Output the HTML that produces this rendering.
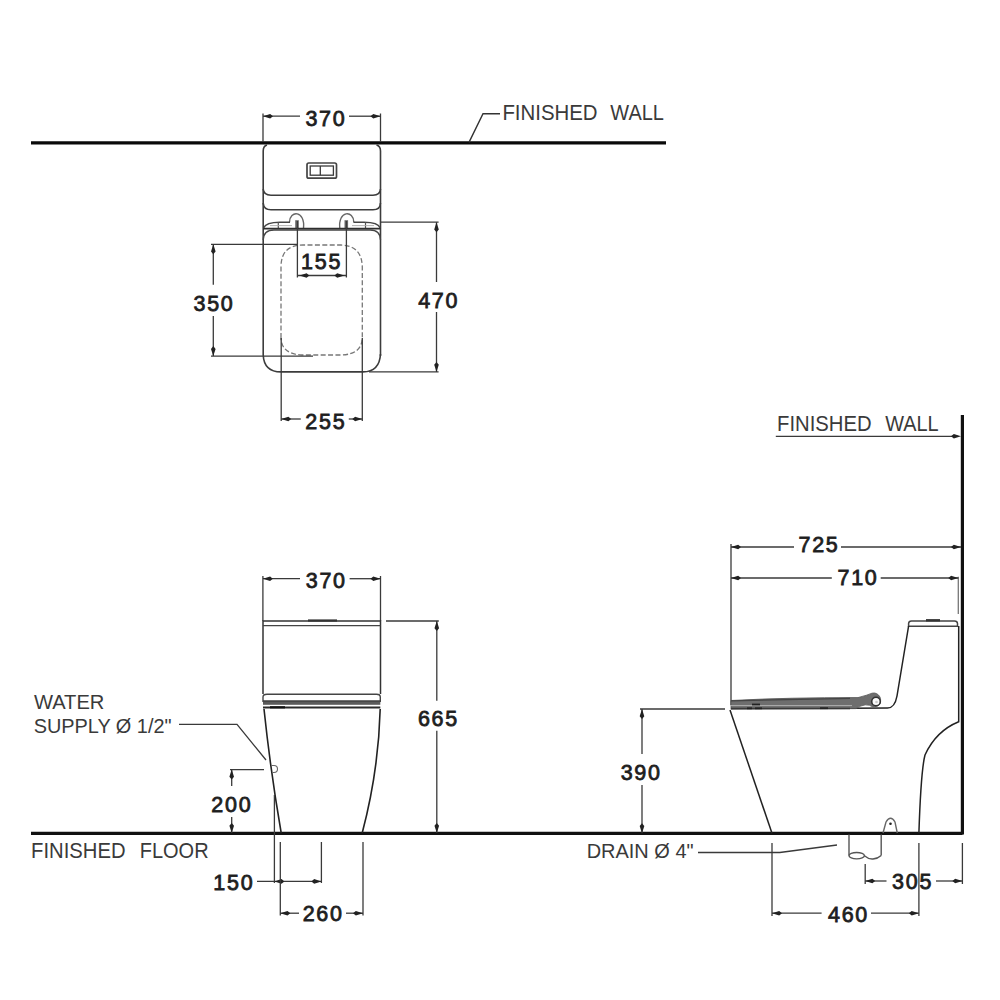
<!DOCTYPE html>
<html><head><meta charset="utf-8"><style>
html,body{margin:0;padding:0;background:#fff;width:1000px;height:1000px;overflow:hidden}
svg{display:block}
.n{font-family:"Liberation Sans",sans-serif;font-size:21.5px;fill:#1e1e1e;stroke:#1e1e1e;stroke-width:0.8;letter-spacing:1.7px}
.lbl{font-family:"Liberation Sans",sans-serif;font-size:21.5px;fill:#3a3a3a}
.lbl2{font-family:"Liberation Sans",sans-serif;font-size:20.5px;fill:#3a3a3a}
</style></head><body>
<svg width="1000" height="1000" viewBox="0 0 1000 1000">
<line x1="31" y1="142.9" x2="666" y2="142.9" stroke="#0a0a0a" stroke-width="3.3"/>
<polyline points="469,142.4 483,113.8 500,113.8" stroke="#333" stroke-width="1.4" fill="none"/>
<text x="502.4" y="119.8" class="lbl" textLength="95.2" lengthAdjust="spacingAndGlyphs">FINISHED</text>
<text x="610.3" y="119.8" class="lbl" textLength="53.6" lengthAdjust="spacingAndGlyphs">WALL</text>
<line x1="263" y1="113.5" x2="263" y2="142" stroke="#3a3a3a" stroke-width="1.3"/>
<line x1="380.5" y1="113.5" x2="380.5" y2="142" stroke="#3a3a3a" stroke-width="1.3"/>
<line x1="263" y1="116.2" x2="300" y2="116.2" stroke="#3a3a3a" stroke-width="1.3"/>
<line x1="349" y1="116.2" x2="380.5" y2="116.2" stroke="#3a3a3a" stroke-width="1.3"/>
<polygon points="263,116.2 270.2,113.9 273,116.2 270.2,118.5" fill="#222"/>
<polygon points="380.5,116.2 373.3,113.9 370.5,116.2 373.3,118.5" fill="#222"/>
<text x="325.95000000000005" y="126.3" text-anchor="middle" class="n">370</text>
<path d="M267,145 Q263.2,146 263.2,151 L263.2,355" stroke="#3c3c3c" stroke-width="1.6" fill="none" />
<path d="M376.5,145 Q380.5,146 380.5,151 L380.5,356" stroke="#3c3c3c" stroke-width="1.6" fill="none" />
<path d="M263.2,189 Q263.6,195.2 271,195.2 L373,195.2 Q380.3,195.2 380.5,189" stroke="#3c3c3c" stroke-width="1.6" fill="none" />
<path d="M263.2,203 Q263.6,209.8 271,209.8 L373,209.8 Q380.3,209.8 380.5,203" stroke="#3c3c3c" stroke-width="1.6" fill="none" />
<rect x="307" y="163" width="29.5" height="15.2" rx="1.8" fill="none" stroke="#444" stroke-width="1.7"/>
<rect x="310.2" y="166" width="23.2" height="9.2" fill="none" stroke="#3a3a3a" stroke-width="1.3"/>
<line x1="320.3" y1="166" x2="320.3" y2="175.2" stroke="#3a3a3a" stroke-width="1.3"/>
<path d="M289.5,222.2 C289.5,210 305.5,210 303.5,228.5" stroke="#666" stroke-width="1.4" fill="none" />
<rect x="295.2" y="220.2" width="3.6" height="8" fill="#6a6a6a"/>
<path d="M353.8,222.2 C353.8,210 337.8,210 339.8,228.5" stroke="#666" stroke-width="1.4" fill="none" />
<rect x="344.5" y="220.2" width="3.6" height="8" fill="#6a6a6a"/>
<path d="M263.5,228 Q266,222.2 280,222.2 L290,222.2" stroke="#444" stroke-width="1.4" fill="none" />
<path d="M353.5,222.2 L364,222.2 Q378,222.2 380.3,228" stroke="#444" stroke-width="1.4" fill="none" />
<line x1="278.3" y1="222.2" x2="278.3" y2="228.5" stroke="#555" stroke-width="1.2"/>
<line x1="365.5" y1="222.2" x2="365.5" y2="228.5" stroke="#555" stroke-width="1.2"/>
<line x1="270" y1="225.6" x2="292" y2="225.6" stroke="#aaa" stroke-width="0.9"/>
<line x1="352" y1="225.6" x2="374" y2="225.6" stroke="#aaa" stroke-width="0.9"/>
<line x1="263.2" y1="228.6" x2="380.5" y2="228.6" stroke="#2e2e2e" stroke-width="1.8"/>
<path d="M263.2,240 Q263.5,230 274,230 L370,230 Q380.3,230 380.5,240" stroke="#444" stroke-width="1.3" fill="none" />
<path d="M263.2,355 Q264,371.9 281,371.9 L363,371.9 Q379.5,371.9 380.5,354" stroke="#3c3c3c" stroke-width="1.6" fill="none" />
<path d="M281,338 L281,266 Q281.5,245 303,245 L341,245 Q361.8,245.5 362.3,267 L362.3,338 Q361.8,354 342,355 L302,355 Q281.5,354 281,338" stroke="#777" stroke-width="1.3" fill="none" stroke-dasharray="5 2.4"/>
<line x1="297.4" y1="221" x2="297.4" y2="277.5" stroke="#3a3a3a" stroke-width="1.3"/>
<line x1="346.4" y1="221" x2="346.4" y2="277.5" stroke="#3a3a3a" stroke-width="1.3"/>
<line x1="297.4" y1="275.5" x2="346.4" y2="275.5" stroke="#3a3a3a" stroke-width="1.3"/>
<polygon points="299.4,275.5 306.59999999999997,273.2 309.4,275.5 306.59999999999997,277.8" fill="#222"/>
<polygon points="344.4,275.5 337.2,273.2 334.4,275.5 337.2,277.8" fill="#222"/>
<text x="321.6" y="268.6" text-anchor="middle" class="n">155</text>
<line x1="211" y1="244.3" x2="297.5" y2="244.3" stroke="#3a3a3a" stroke-width="1.3"/>
<line x1="211" y1="356.1" x2="313" y2="356.1" stroke="#3a3a3a" stroke-width="1.3"/>
<line x1="213.3" y1="244.3" x2="213.3" y2="284.8" stroke="#3a3a3a" stroke-width="1.3"/>
<line x1="213.3" y1="316" x2="213.3" y2="356.1" stroke="#3a3a3a" stroke-width="1.3"/>
<polygon points="213.3,244.3 211.0,251.5 213.3,254.3 215.60000000000002,251.5" fill="#222"/>
<polygon points="213.3,356.1 211.0,348.90000000000003 213.3,346.1 215.60000000000002,348.90000000000003" fill="#222"/>
<text x="214.04999999999998" y="310.5" text-anchor="middle" class="n">350</text>
<line x1="380.8" y1="222.2" x2="438.6" y2="222.2" stroke="#3a3a3a" stroke-width="1.3"/>
<line x1="369" y1="371.9" x2="438.6" y2="371.9" stroke="#3a3a3a" stroke-width="1.3"/>
<line x1="436.5" y1="222.2" x2="436.5" y2="282" stroke="#3a3a3a" stroke-width="1.3"/>
<line x1="436.5" y1="312" x2="436.5" y2="371.9" stroke="#3a3a3a" stroke-width="1.3"/>
<polygon points="436.5,222.2 434.2,229.39999999999998 436.5,232.2 438.8,229.39999999999998" fill="#222"/>
<polygon points="436.5,371.9 434.2,364.7 436.5,361.9 438.8,364.7" fill="#222"/>
<text x="438.70000000000005" y="307.8" text-anchor="middle" class="n">470</text>
<line x1="281.2" y1="338" x2="281.2" y2="421" stroke="#3a3a3a" stroke-width="1.3"/>
<line x1="362.3" y1="338" x2="362.3" y2="421" stroke="#3a3a3a" stroke-width="1.3"/>
<line x1="281.2" y1="419" x2="300.8" y2="419" stroke="#3a3a3a" stroke-width="1.3"/>
<line x1="348.8" y1="419" x2="362.3" y2="419" stroke="#3a3a3a" stroke-width="1.3"/>
<polygon points="281.2,419 288.4,416.7 291.2,419 288.4,421.3" fill="#222"/>
<polygon points="362.3,419 355.1,416.7 352.3,419 355.1,421.3" fill="#222"/>
<text x="325.85" y="429.3" text-anchor="middle" class="n">255</text>
<line x1="31" y1="833.3" x2="962.5" y2="833.3" stroke="#111" stroke-width="3.2"/>
<line x1="262.9" y1="576" x2="262.9" y2="621" stroke="#3a3a3a" stroke-width="1.3"/>
<line x1="380.5" y1="576" x2="380.5" y2="621" stroke="#3a3a3a" stroke-width="1.3"/>
<line x1="262.9" y1="578.7" x2="300" y2="578.7" stroke="#3a3a3a" stroke-width="1.3"/>
<line x1="349.6" y1="578.7" x2="380.5" y2="578.7" stroke="#3a3a3a" stroke-width="1.3"/>
<polygon points="262.9,578.7 270.09999999999997,576.4000000000001 272.9,578.7 270.09999999999997,581.0" fill="#222"/>
<polygon points="380.5,578.7 373.3,576.4000000000001 370.5,578.7 373.3,581.0" fill="#222"/>
<text x="326.25" y="588.2" text-anchor="middle" class="n">370</text>
<path d="M263,694 L263,621 L380.5,621 L380.5,694" stroke="#333" stroke-width="1.5" fill="none" />
<line x1="263" y1="625.6" x2="380.5" y2="625.6" stroke="#444" stroke-width="1.4"/>
<line x1="308" y1="620.5" x2="337" y2="620.5" stroke="#333" stroke-width="2.2"/>
<path d="M263,702 L263,697 Q263,694.3 267,694.3 L376.5,694.3 Q380.3,694.3 380.3,697 L380.3,702" stroke="#444" stroke-width="1.4" fill="none" />
<rect x="263" y="700.5" width="117.3" height="4.3" fill="#5a5a5a"/>
<line x1="263" y1="701" x2="380.3" y2="701" stroke="#333" stroke-width="1.2"/>
<line x1="263" y1="707.5" x2="380.3" y2="707.5" stroke="#2a2a2a" stroke-width="1.8"/>
<line x1="270" y1="707.3" x2="285" y2="707.3" stroke="#111" stroke-width="2.2"/>
<path d="M264,709 Q270.5,771 281.2,833" stroke="#222" stroke-width="1.6" fill="none" />
<path d="M380.2,709 Q378.5,771.3 362.2,833" stroke="#222" stroke-width="1.6" fill="none" />
<path d="M271,765.5 L274,765.5 A3.5,3.5 0 0 1 274,772.5 L272.5,772.5" stroke="#666" stroke-width="1.1" fill="none" />
<polyline points="179,724.4 237,724.4 266,760" stroke="#3a3a3a" stroke-width="1.3" fill="none"/>
<text x="33.9" y="708.6" class="lbl2" textLength="70.5" lengthAdjust="spacingAndGlyphs">WATER</text>
<text x="33.7" y="733.2" class="lbl2" textLength="137.9" lengthAdjust="spacingAndGlyphs">SUPPLY Ø 1/2&quot;</text>
<line x1="230" y1="769.6" x2="264" y2="769.6" stroke="#3a3a3a" stroke-width="1.3"/>
<line x1="231.7" y1="769.6" x2="231.7" y2="786" stroke="#3a3a3a" stroke-width="1.3"/>
<line x1="231.7" y1="817" x2="231.7" y2="833" stroke="#3a3a3a" stroke-width="1.3"/>
<polygon points="231.7,769.6 229.39999999999998,776.8000000000001 231.7,779.6 234.0,776.8000000000001" fill="#222"/>
<polygon points="231.7,833 229.39999999999998,825.8 231.7,823 234.0,825.8" fill="#222"/>
<text x="231.85" y="811.5" text-anchor="middle" class="n">200</text>
<line x1="386" y1="621" x2="438.8" y2="621" stroke="#3a3a3a" stroke-width="1.3"/>
<line x1="436.8" y1="621" x2="436.8" y2="700.7" stroke="#3a3a3a" stroke-width="1.3"/>
<line x1="436.8" y1="730.7" x2="436.8" y2="833" stroke="#3a3a3a" stroke-width="1.3"/>
<polygon points="436.8,621 434.5,628.2 436.8,631 439.1,628.2" fill="#222"/>
<polygon points="436.8,833 434.5,825.8 436.8,823 439.1,825.8" fill="#222"/>
<text x="438.4" y="726.2" text-anchor="middle" class="n">665</text>
<text x="31.1" y="857.7" class="lbl" textLength="94.5" lengthAdjust="spacingAndGlyphs">FINISHED</text>
<text x="139.7" y="857.7" class="lbl" textLength="68.9" lengthAdjust="spacingAndGlyphs">FLOOR</text>
<line x1="274.4" y1="795" x2="274.4" y2="883" stroke="#3a3a3a" stroke-width="1.3"/>
<line x1="321.4" y1="842" x2="321.4" y2="883" stroke="#3a3a3a" stroke-width="1.3"/>
<line x1="257" y1="881.4" x2="321.4" y2="881.4" stroke="#3a3a3a" stroke-width="1.3"/>
<polygon points="321.4,881.4 314.2,879.1 311.4,881.4 314.2,883.6999999999999" fill="#222"/>
<polygon points="274.4,881.4 281.59999999999997,879.1 284.4,881.4 281.59999999999997,883.6999999999999" fill="#222"/>
<text x="233.85" y="890.2" text-anchor="middle" class="n">150</text>
<line x1="280.3" y1="842" x2="280.3" y2="915.5" stroke="#3a3a3a" stroke-width="1.3"/>
<line x1="363" y1="842" x2="363" y2="915.5" stroke="#3a3a3a" stroke-width="1.3"/>
<line x1="280.3" y1="913.2" x2="299" y2="913.2" stroke="#3a3a3a" stroke-width="1.3"/>
<line x1="346" y1="913.2" x2="363" y2="913.2" stroke="#3a3a3a" stroke-width="1.3"/>
<polygon points="280.3,913.2 287.5,910.9000000000001 290.3,913.2 287.5,915.5" fill="#222"/>
<polygon points="363,913.2 355.8,910.9000000000001 353,913.2 355.8,915.5" fill="#222"/>
<text x="323.15000000000003" y="920.5" text-anchor="middle" class="n">260</text>
<line x1="962.4" y1="415" x2="962.4" y2="834.5" stroke="#111" stroke-width="3.2"/>
<text x="777.0" y="431" class="lbl" textLength="94.6" lengthAdjust="spacingAndGlyphs">FINISHED</text>
<text x="885.2" y="431" class="lbl" textLength="53.4" lengthAdjust="spacingAndGlyphs">WALL</text>
<line x1="775.8" y1="436.3" x2="958" y2="436.3" stroke="#3a3a3a" stroke-width="1.3"/>
<polygon points="961,436.3 953.8,434.0 951,436.3 953.8,438.6" fill="#222"/>
<line x1="731" y1="544" x2="731" y2="705" stroke="#3a3a3a" stroke-width="1.3"/>
<line x1="731" y1="547" x2="794" y2="547" stroke="#3a3a3a" stroke-width="1.3"/>
<line x1="841" y1="547" x2="961" y2="547" stroke="#3a3a3a" stroke-width="1.3"/>
<polygon points="731,547 738.2,544.7 741,547 738.2,549.3" fill="#222"/>
<polygon points="961,547 953.8,544.7 951,547 953.8,549.3" fill="#222"/>
<text x="819.0" y="552.2" text-anchor="middle" class="n">725</text>
<line x1="958.3" y1="576.8" x2="958.3" y2="614" stroke="#777" stroke-width="1.3"/>
<line x1="731" y1="578" x2="831.8" y2="578" stroke="#3a3a3a" stroke-width="1.3"/>
<line x1="880.7" y1="578" x2="958.3" y2="578" stroke="#3a3a3a" stroke-width="1.3"/>
<polygon points="731,578 738.2,575.7 741,578 738.2,580.3" fill="#222"/>
<polygon points="958.3,578 951.0999999999999,575.7 948.3,578 951.0999999999999,580.3" fill="#222"/>
<text x="858.0" y="584.8" text-anchor="middle" class="n">710</text>
<path d="M908.6,627 L908.6,623.5 Q908.8,621 911.5,621 L954.5,621 Q957.3,621 957.5,623.5 L957.5,627" stroke="#444" stroke-width="1.5" fill="none" />
<line x1="908.6" y1="626.2" x2="957.5" y2="626.2" stroke="#444" stroke-width="1.6"/>
<line x1="926" y1="620.3" x2="940" y2="620.3" stroke="#333" stroke-width="2.4"/>
<path d="M908.6,626 L897,696 Q894.8,708 887.5,708 L850,708.3" stroke="#222" stroke-width="1.5" fill="none" />
<path d="M958.7,626 L958.7,721.8 Q936,731 925,755 Q921,770 918.9,833" stroke="#222" stroke-width="1.5" fill="none" />
<path d="M731,700.5 Q790,697.4 858,697.6 Q868,695 872,693.2 Q877,692 880,697 Q882,703 878,706 L873,707 Q866,702 856,708.6 L731,709.2 Z" stroke="#555" stroke-width="0.8" fill="#6e6e6e" />
<line x1="731" y1="705.6" x2="852" y2="705.6" stroke="#b0b0b0" stroke-width="1.0"/>
<line x1="731" y1="708.4" x2="850" y2="708.4" stroke="#3a3a3a" stroke-width="1.5"/>
<line x1="731" y1="700.8" x2="850" y2="698.4" stroke="#444" stroke-width="1.3"/>
<line x1="747" y1="708.3" x2="752" y2="708.3" stroke="#222" stroke-width="1.8"/>
<line x1="755" y1="708.3" x2="762" y2="708.3" stroke="#222" stroke-width="1.8"/>
<line x1="752" y1="704.5" x2="760" y2="704.5" stroke="#222" stroke-width="1.8"/>
<line x1="820" y1="708.2" x2="828" y2="708.2" stroke="#222" stroke-width="1.8"/>
<circle cx="876" cy="701.5" r="4.3" fill="#fafafa" stroke="#333" stroke-width="1.6"/>
<circle cx="876.5" cy="702" r="1.3" fill="#ccc"/>
<line x1="730" y1="710" x2="772" y2="833.3" stroke="#222" stroke-width="1.5"/>
<line x1="640" y1="709" x2="725" y2="709" stroke="#3a3a3a" stroke-width="1.3"/>
<line x1="642" y1="709" x2="642" y2="754" stroke="#3a3a3a" stroke-width="1.3"/>
<line x1="642" y1="785" x2="642" y2="833.3" stroke="#3a3a3a" stroke-width="1.3"/>
<polygon points="642,709 639.7,716.2 642,719 644.3,716.2" fill="#222"/>
<polygon points="642,833.3 639.7,826.0999999999999 642,823.3 644.3,826.0999999999999" fill="#222"/>
<text x="641.15" y="780" text-anchor="middle" class="n">390</text>
<text x="586.7" y="858" class="lbl2" textLength="106.9" lengthAdjust="spacingAndGlyphs">DRAIN Ø 4&quot;</text>
<polyline points="698,852.5 779.8,852.5 837,845" stroke="#3a3a3a" stroke-width="1.3" fill="none"/>
<path d="M849,834.5 L849,855.5" stroke="#555" stroke-width="1.4" fill="none" />
<path d="M881.2,834.5 L881.2,855.5" stroke="#555" stroke-width="1.4" fill="none" />
<ellipse cx="856.7" cy="855.7" rx="7.7" ry="3.2" fill="none" stroke="#555" stroke-width="1.4"/>
<path d="M864.4,855.7 Q869,859.5 873,859 Q878,858.5 881.2,855.5" stroke="#555" stroke-width="1.4" fill="none" />
<path d="M883,833 L886,822 Q890.6,814.5 895,822 L897.3,833" stroke="#666" stroke-width="1.4" fill="none" />
<circle cx="890.5" cy="823.8" r="1.3" fill="#222"/>
<line x1="865.2" y1="864" x2="865.2" y2="884" stroke="#3a3a3a" stroke-width="1.3"/>
<line x1="962.4" y1="843" x2="962.4" y2="884" stroke="#3a3a3a" stroke-width="1.3"/>
<line x1="865.2" y1="881" x2="886.5" y2="881" stroke="#3a3a3a" stroke-width="1.3"/>
<line x1="936" y1="881" x2="962.4" y2="881" stroke="#3a3a3a" stroke-width="1.3"/>
<polygon points="865.2,881 872.4000000000001,878.7 875.2,881 872.4000000000001,883.3" fill="#222"/>
<polygon points="962.4,881 955.1999999999999,878.7 952.4,881 955.1999999999999,883.3" fill="#222"/>
<text x="912.6" y="889.2" text-anchor="middle" class="n">305</text>
<line x1="772" y1="843" x2="772" y2="916" stroke="#3a3a3a" stroke-width="1.3"/>
<line x1="918.9" y1="843" x2="918.9" y2="916" stroke="#3a3a3a" stroke-width="1.3"/>
<line x1="772" y1="913.2" x2="821.6" y2="913.2" stroke="#3a3a3a" stroke-width="1.3"/>
<line x1="871" y1="913.2" x2="918.9" y2="913.2" stroke="#3a3a3a" stroke-width="1.3"/>
<polygon points="772,913.2 779.2,910.9000000000001 782,913.2 779.2,915.5" fill="#222"/>
<polygon points="918.9,913.2 911.6999999999999,910.9000000000001 908.9,913.2 911.6999999999999,915.5" fill="#222"/>
<text x="848.5000000000001" y="921.5" text-anchor="middle" class="n">460</text>
</svg>
</body></html>
